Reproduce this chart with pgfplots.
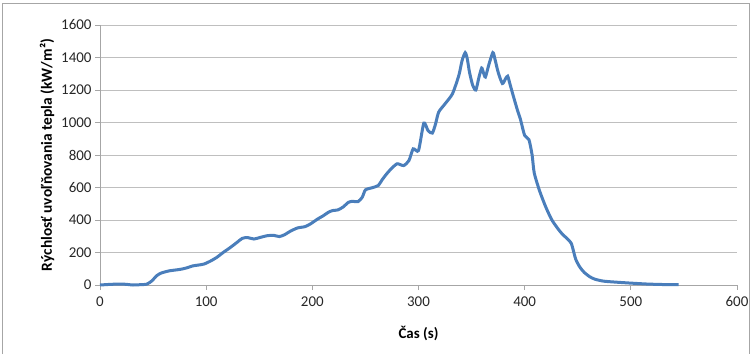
\documentclass[border=0pt]{standalone}
\usepackage{fontspec}
\setmainfont{Carlito}
\usepackage{pgfplots}
\pgfplotsset{compat=1.18}
\definecolor{excelblue}{HTML}{4A7EBB}
\definecolor{gridgray}{HTML}{BFBFBF}
\definecolor{axgray}{HTML}{A6A6A6}
\begin{document}
\begin{tikzpicture}[x=1bp,y=1bp]
\path[use as bounding box] (0,0) rectangle (752,354);
\draw[color=gray!70,line width=0.8bp] (2.5,0) -- (2.5,351) -- (749.5,351) -- (749.5,0);
\begin{axis}[
  at={(100bp,69bp)}, anchor=south west,
  scale only axis, width=637bp, height=260bp,
  xmin=0, xmax=600, ymin=0, ymax=1600,
  xtick={0,100,...,600}, ytick={0,200,...,1600},
  axis x line*=bottom, axis y line*=left,
  axis line style={draw=axgray, line width=0.8bp, -},
  ymajorgrids, grid style={draw=gridgray, line width=0.9bp},
  tick align=outside, major tick length=5bp,
  tick style={draw=axgray, line width=0.8bp},
  /pgf/number format/assume math mode=true,
  /pgf/number format/1000 sep={},
  tick label style={font=\fontsize{15}{17}\selectfont, text=black!85},
  xticklabel style={yshift=-3bp},
  xlabel={Čas (s)}, ylabel={Rýchlosť uvoľňovania tepla (kW/m²)},
  xlabel style={at={(axis description cs:0.5,0)}, anchor=center, yshift=-48bp, font=\fontsize{15}{17}\selectfont\bfseries},
  ylabel style={font=\fontsize{15.5}{17}\selectfont\bfseries},
  clip=false,
]
\addplot[color=excelblue, line width=3bp, smooth, tension=0.4] coordinates {
(0,0) (10,4) (19,6) (25,4) (31,0) (38,2) (44,5) (49,26) (53,55) (57,72)
(62,82) (66,88) (72,93) (77,98) (82,106) (87,117) (93,123) (98,129)
(104,147) (110,170) (116,200) (123,232) (129,262) (134,287) (139,292)
(145,283) (151,293) (158,304) (164,305) (169,298) (174,310) (179,330)
(186,351) (193,359) (198,375) (205,406) (210,425) (215,447) (219,458)
(224,462) (229,480) (234,509) (238,515) (243,513) (247,540) (250,585)
(256,598) (262,612) (266,650) (270,684) (275,720) (280,746) (286,735)
(291,766) (295,838) (300,828) (305,996) (309,950) (313,935) (316,990)
(319,1064) (325,1115) (332,1177) (338,1290) (341,1380) (344,1430)
(346,1390) (348,1310) (351,1230) (354,1200) (357,1280) (359.5,1335)
(361,1310) (363,1280) (366,1350) (370,1430) (372,1390) (375,1310)
(379,1240) (382,1270) (384,1285) (386,1240) (389,1170) (393,1080)
(396,1020) (400,920) (404,895) (407,800) (409,690) (414,580) (420,478)
(426,396) (434,324) (440,285) (444,255) (448,160) (452,110) (456,78)
(461,52) (466,36) (474,24) (485,18) (499,12) (515,6) (530,3) (545,2)
};
\end{axis}
\end{tikzpicture}
\end{document}
